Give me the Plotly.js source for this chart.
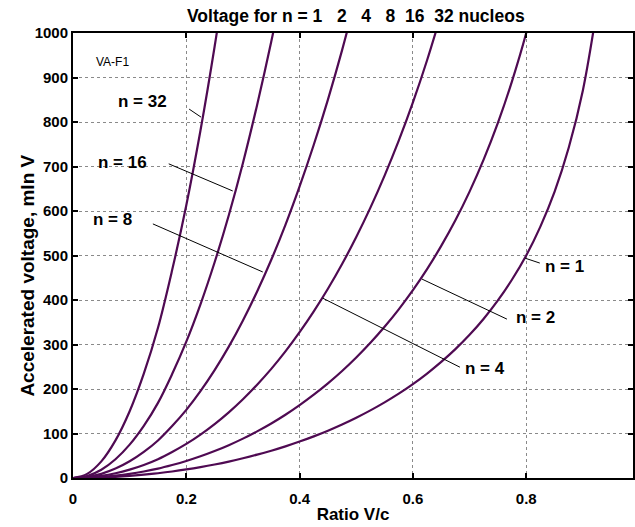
<!DOCTYPE html>
<html>
<head>
<meta charset="utf-8">
<script src="https://cdn.plot.ly/plotly-3.0.1.min.js"></script>
<style>html,body{margin:0;padding:0;background:#fff;}</style>
</head>
<body>
<div id="chart" style="width:635px;height:527px;"></div>
<script>
// Ratio V/c sample positions (x)
const ratio = [0,0.025,0.05,0.075,0.1,0.125,0.15,0.175,0.2,0.225,0.25,0.275,0.3,0.325,0.35,0.375,0.4,0.425,0.45,0.475,0.5,0.525,0.55,0.575,0.6,0.625,0.65,0.675,0.7,0.725,0.75,0.775,0.8,0.825,0.85,0.875,0.9,0.925];

// Accelerated voltage (mln V)
const n1  = [0,0.3,1.2,2.6,4.7,7.4,10.7,14.6,19.2,24.4,30.3,36.9,44.3,52.4,61.3,71.1,81.9,93.6,106.3,120.2,135.4,151.9,169.9,189.5,211,234.7,260.8,289.6,321.8,358,399,446,500,565,643,742,871,1056];
const n2  = [0,0.6,2.3,5.3,9.4,14.7,21.1,29.2,38.3,48.8,60.6,73.8,88.5,104.8,122.6,142.2,163.8,187.2,212.6,240.4,270.8,303.8,339.8,379,422,469.4,521.6,579.2,643.6,716,798,892,1000,1130];
const n4  = [0,1.2,4.7,10.6,18.8,29.3,42.2,58.4,76.6,97.6,121.2,147.6,177,209.6,245.2,284.4,327.6,374.4,425.2,480.8,541.6,607.6,679.6,758,844,938.8,1043.2];
const n8  = [0,2.3,9.4,21.1,37.5,58.6,84.4,116.8,153.2,195.2,242.4,295.2,354,419.2,490.4,568.8,655.2,748.8,850.4,961.6,1083.2];
const n16 = [0,4.6,18.7,42.2,75,117.2,168.8,233.6,306.4,390.4,484.8,590.4,708,838.4,980.8,1137.6];
const n32 = [0,9.3,37.4,84.5,150,234.4,337.6,467.2,612.8,780.8,969.6,1180.8];

const seriesNames = ["n = 1","n = 2","n = 4","n = 8","n = 16","n = 32"];
const seriesValues = [n1, n2, n4, n8, n16, n32];

// Label positions and leader lines [x0,y0,x1,y1]
const labelText = ["n = 1","n = 2","n = 4","n = 8","n = 16","n = 32"];
const labelX = [0.868,0.816,0.727,0.069,0.088,0.122];
const labelY = [476,360,247,580,710,847];
const leaders = [
  [0.798,494,0.824,483],
  [0.616,447,0.766,357],
  [0.441,404,0.683,249],
  [0.141,571,0.335,463],
  [0.169,706,0.282,645],
  [0.205,829,0.226,811]
];

const xTicks = [0,0.2,0.4,0.6,0.8];
const yTicks = [0,100,200,300,400,500,600,700,800,900,1000];

const lineColor = "#4f0a52";
const fontFam = "Arial, 'Liberation Sans', Helvetica, sans-serif";

const traces = seriesValues.map((vals, i) => ({
  x: ratio.slice(0, vals.length),
  y: vals,
  type: "scatter",
  mode: "lines",
  name: seriesNames[i],
  line: {color: lineColor, width: 2.2, shape: "spline", smoothing: 1},
  hoverinfo: "x+y+name"
}));

const annotations = labelText.map((t, i) => ({
  x: labelX[i], y: labelY[i], xref: "x", yref: "y",
  text: "<b>" + t + "</b>", showarrow: false,
  font: {family: fontFam, size: 17, color: "#000"},
  xanchor: "center", yanchor: "middle"
}));
annotations.push({
  x: 0.069, y: 935, xref: "x", yref: "y", text: "VA-F1", showarrow: false,
  font: {family: fontFam, size: 12, color: "#000"}, xanchor: "center", yanchor: "middle"
});
annotations.push({
  x: -0.082, y: 0.455, xref: "paper", yref: "paper", textangle: -90,
  text: "<b>Accelerated voltage, mln V</b>", showarrow: false,
  font: {family: fontFam, size: 19, color: "#000"}, xanchor: "center", yanchor: "middle"
});

const shapes = leaders.map(l => ({
  type: "line", xref: "x", yref: "y",
  x0: l[0], y0: l[1], x1: l[2], y1: l[3],
  line: {color: "#000", width: 1}
}));

const sp = "\u00A0";
const title = "Voltage for n = 1" + sp+sp+sp + "2" + sp+sp+sp + "4" + sp+sp+sp + "8" + sp+sp + "16" + sp+sp + "32 nucleos";

const layout = {
  width: 635, height: 527,
  margin: {l: 73, r: 2, t: 33, b: 49, pad: 0},
  paper_bgcolor: "#fff", plot_bgcolor: "#fff",
  showlegend: false,
  title: {text: "<b>" + title + "</b>", xref: "paper", x: 0.505, xanchor: "center",
          yref: "container", y: 0.97, yanchor: "middle",
          font: {family: fontFam, size: 17.5, color: "#000"}},
  xaxis: {
    range: [0, 0.9885], tickvals: xTicks, ticktext: xTicks.map(v => "<b>" + v + "</b>"),
    showgrid: true, gridcolor: "#8a8a8a", griddash: "dot", gridwidth: 1,
    zeroline: false, showline: true, linecolor: "#000", linewidth: 2, mirror: "ticks",
    ticks: "inside", ticklen: 5, tickwidth: 2, tickcolor: "#000", ticklabelstandoff: 6,
    tickfont: {family: fontFam, size: 15, color: "#000"},
    title: {text: "<b>Ratio V/c</b>", standoff: 2, font: {family: fontFam, size: 17, color: "#000"}},
    automargin: false
  },
  yaxis: {
    range: [0, 1000], tickvals: yTicks, ticktext: yTicks.map(v => "<b>" + v + "</b>"),
    showgrid: true, gridcolor: "#8a8a8a", griddash: "dot", gridwidth: 1,
    zeroline: false, showline: true, linecolor: "#000", linewidth: 2, mirror: "ticks",
    ticks: "inside", ticklen: 5, tickwidth: 2, tickcolor: "#000",
    tickfont: {family: fontFam, size: 15, color: "#000"},
    automargin: false
  },
  annotations: annotations,
  shapes: shapes
};

Plotly.newPlot("chart", traces, layout, {displayModeBar: false, staticPlot: true});
</script>
</body>
</html>
